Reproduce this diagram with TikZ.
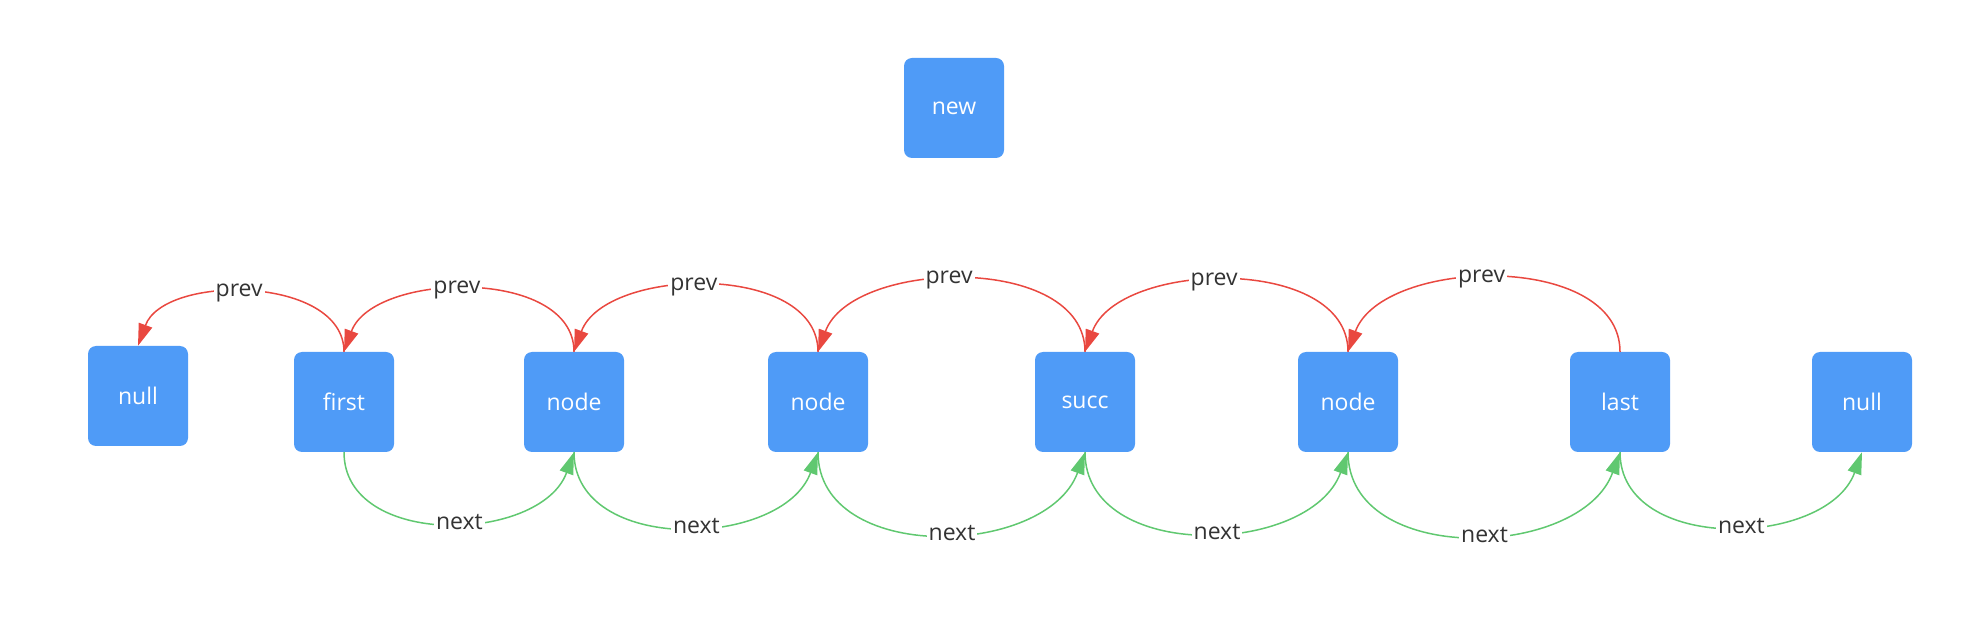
\documentclass[tikz,border=0pt]{standalone}
\usepackage{fontspec}
\setmainfont{Open Sans}
\usetikzlibrary{arrows.meta}
\definecolor{boxblue}{RGB}{79,155,247}
\definecolor{prevred}{RGB}{233,72,64}
\definecolor{nextgreen}{RGB}{96,200,112}
\definecolor{txtgray}{RGB}{51,51,51}
\tikzset{
 box/.style={fill=boxblue, rounded corners=8pt, minimum size=100pt, inner sep=0pt, text=white, font=\fontsize{23}{27}\selectfont},
 prevline/.style={prevred, line width=1.5pt, looseness=0.95, -{Triangle[length=22pt,width=14pt]}},
 nextline/.style={nextgreen, line width=1.5pt, looseness=1.08, -{Triangle[length=22pt,width=14pt]}},
 lbl/.style={fill=white, text=txtgray, inner sep=2pt, pos=0.54, font=\fontsize{23}{27}\selectfont}
}
\begin{document}
\begin{tikzpicture}[x=1pt,y=1pt]
\useasboundingbox (0,0) rectangle (1964,616);
% the nodes
\node[box] (new) at (954,508) {new};
\node[box] (nullA) at (138,220) {null};
\node[box] (first) at (344,214) {first};
\node[box] (nodeA) at (574,214) {node};
\node[box] (nodeB) at (818,214) {node};
\node[box] (succ) at (1085,214) {succ};
\node[box] (nodeC) at (1348,214) {node};
\node[box] (last) at (1620,214) {last};
\node[box] (nullB) at (1862,214) {null};

% prev links
\draw[prevline] (first.north) to[out=90,in=70] node[lbl] {prev} (nullA.north);
\draw[prevline] (nodeA.north) to[out=90,in=70] node[lbl] {prev} (first.north);
\draw[prevline] (nodeB.north) to[out=90,in=70] node[lbl] {prev} (nodeA.north);
\draw[prevline] (succ.north) to[out=90,in=70] node[lbl] {prev} (nodeB.north);
\draw[prevline] (nodeC.north) to[out=90,in=70] node[lbl] {prev} (succ.north);
\draw[prevline] (last.north) to[out=90,in=70] node[lbl] {prev} (nodeC.north);

% next links
\draw[nextline] (first.south) to[out=-90,in=-110] node[lbl] {next} (nodeA.south);
\draw[nextline] (nodeA.south) to[out=-90,in=-110] node[lbl] {next} (nodeB.south);
\draw[nextline] (nodeB.south) to[out=-90,in=-110] node[lbl] {next} (succ.south);
\draw[nextline] (succ.south) to[out=-90,in=-110] node[lbl] {next} (nodeC.south);
\draw[nextline] (nodeC.south) to[out=-90,in=-110] node[lbl] {next} (last.south);
\draw[nextline] (last.south) to[out=-90,in=-110] node[lbl] {next} (nullB.south);
\end{tikzpicture}
\end{document}
